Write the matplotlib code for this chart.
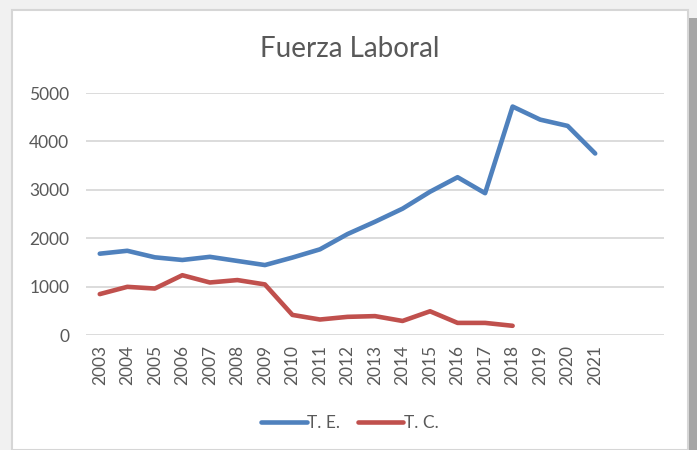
import matplotlib.pyplot as plt
from matplotlib.patches import Rectangle

# categories (last two slots are empty in the original sheet)
years = ["2003", "2004", "2005", "2006", "2007", "2008", "2009", "2010", "2011",
         "2012", "2013", "2014", "2015", "2016", "2017", "2018", "2019", "2020",
         "2021", "", ""]

te_values = [1680, 1740, 1605, 1550, 1615, 1530, 1445, 1600, 1770, 2085, 2340,
             2610, 2960, 3260, 2930, 4720, 4450, 4320, 3750]
tc_values = [845, 995, 960, 1235, 1085, 1135, 1045, 415, 320, 375, 390,
             290, 490, 250, 250, 190]

plt.rcParams['font.family'] = ['Lato', 'DejaVu Sans']
text_color = "#595959"

fig = plt.figure(figsize=(6.97, 4.5), dpi=100, facecolor="#f1f1f1")

# white chart area with light border, and darker strip on the right
fig.patches.append(Rectangle((12 / 697, 0), 676 / 697, 1 - 10 / 450,
                             transform=fig.transFigure, facecolor="white",
                             edgecolor="#d6d6d6", linewidth=1.5, zorder=0))
fig.patches.append(Rectangle((689 / 697, 0), 8 / 697, 1 - 18 / 450,
                             transform=fig.transFigure, facecolor="#a6a6a6",
                             edgecolor="none", zorder=0))

ax = fig.add_axes([86 / 697, 1 - 335 / 450, 578 / 697, 242 / 450])
ax.set_zorder(2)
ax.set_facecolor("none")

x_te = range(len(te_values))
x_tc = range(len(tc_values))
ax.plot(x_te, te_values, color="#4f81bd", linewidth=3.3, solid_capstyle="round",
        solid_joinstyle="round", label="T. E.")
ax.plot(x_tc, tc_values, color="#c0504d", linewidth=3.3, solid_capstyle="round",
        solid_joinstyle="round", label="T. C.")

ax.set_xlim(-0.5, len(years) - 0.5)
ax.set_ylim(0, 5000)
ax.set_yticks(range(0, 5001, 1000))
ax.set_xticks(range(len(years)))
ax.set_xticklabels(years, rotation=90)
ax.tick_params(axis="both", length=0, labelsize=12.5, labelcolor=text_color)
ax.tick_params(axis="y", pad=12)
ax.tick_params(axis="x", pad=7)

ax.grid(axis="y", color="#d9d9d9", linewidth=1.3)
ax.set_axisbelow(True)
for s in ax.spines.values():
    s.set_visible(False)

fig.text(350 / 697, 1 - 57 / 450, "Fuerza Laboral", ha="center", va="baseline",
         fontsize=20, color=text_color, zorder=3)

leg = fig.legend(loc="center", bbox_to_anchor=(350 / 697, 1 - 423 / 450), ncol=2,
                 frameon=False, fontsize=12.5, labelcolor=text_color, handlelength=2.6,
                 handletextpad=0.05, columnspacing=1.0)
leg.set_zorder(3)

fig.savefig("out.png", dpi=100, facecolor=fig.get_facecolor())
